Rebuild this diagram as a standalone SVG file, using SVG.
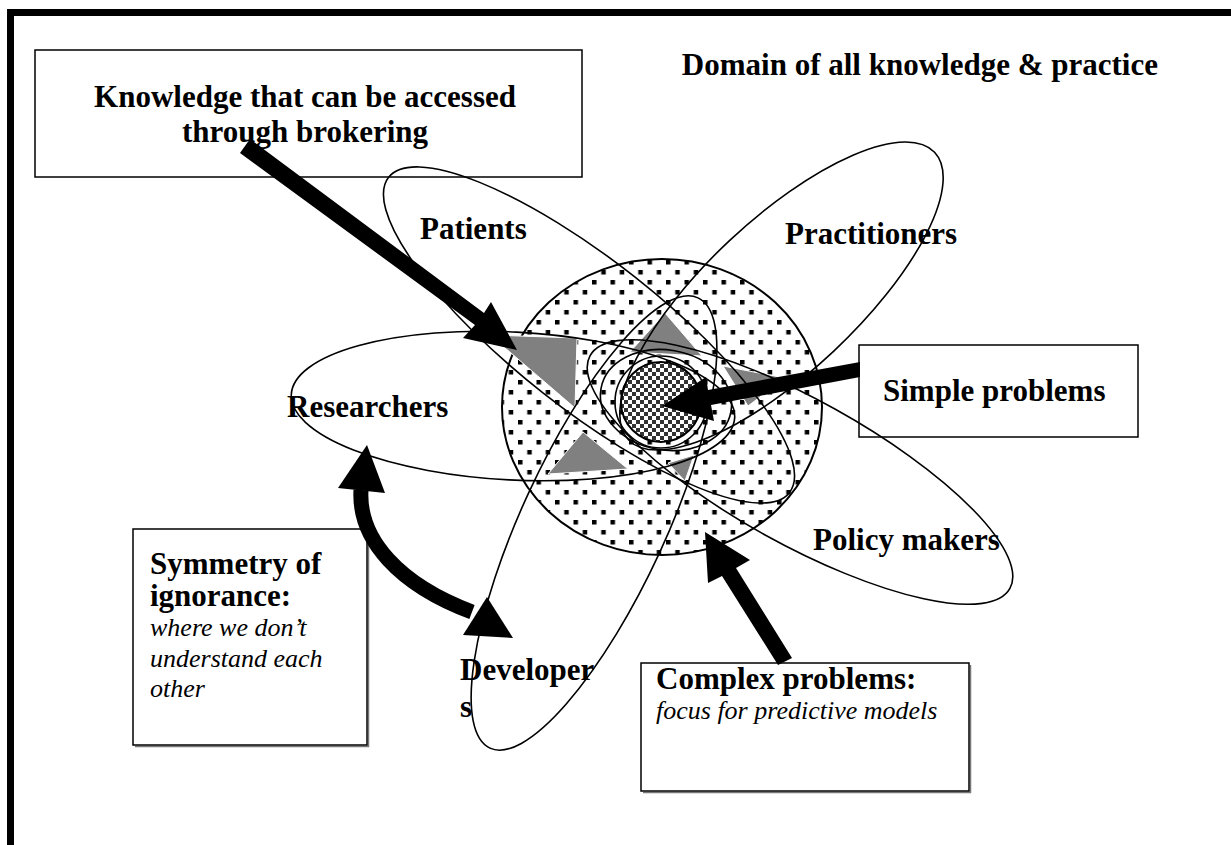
<svg xmlns="http://www.w3.org/2000/svg" width="1231" height="845" viewBox="0 0 1231 845">
<defs>
<pattern id="dots" patternUnits="userSpaceOnUse" width="18.5" height="20">
<rect x="0" y="0" width="4.5" height="4.5" fill="#000"/>
<rect x="9.25" y="10" width="4.5" height="4.5" fill="#000"/>
</pattern>
<pattern id="checks" patternUnits="userSpaceOnUse" width="8" height="8">
<rect width="8" height="8" fill="#fff"/>
<rect x="0" y="0" width="4" height="4" fill="#333"/>
<rect x="4" y="4" width="4" height="4" fill="#333"/>
</pattern>
<style>
.lbl{font-family:"Liberation Serif","Times New Roman",serif;font-weight:bold;font-size:31px;fill:#000}
.it{font-family:"Liberation Serif","DejaVu Serif","Times New Roman",serif;font-style:italic;font-size:26px;fill:#000}
.box{fill:none;stroke:#000;stroke-width:1.5}
.shadow{fill:none;stroke:#777;stroke-width:1.5}
.orb{fill:none;stroke:#000;stroke-width:1.6}
.tri{fill:#808080;stroke:#fff;stroke-width:1}
.arr{fill:#000}
</style>
</defs>
<rect width="1231" height="845" fill="#fff"/>
<g id="frame">
<rect x="7" y="9" width="1224" height="7" fill="#000"/>
<rect x="7" y="9" width="7" height="836" fill="#000"/>
</g>
<g id="domain">
<ellipse cx="662" cy="407" rx="160" ry="148" fill="#fff"/>
<ellipse cx="662" cy="407" rx="160" ry="148" fill="url(#dots)" stroke="#000" stroke-width="2"/>
</g>
<g id="overlaps">
<polygon class="tri" points="490,335 577,338 575,408"/>
<polygon class="tri" points="665,313 630,352 702,356"/>
<polygon class="tri" points="723,366 785,378 748,406"/>
<polygon class="tri" points="583,432 548,474 628,469"/>
<polygon class="tri" points="668,463 694,455 685,481"/>
</g>
<g id="nucleus">
<circle cx="661" cy="402" r="40" fill="url(#checks)" stroke="#000" stroke-width="2"/>
<circle cx="661" cy="402" r="46" class="orb"/>
<ellipse cx="666" cy="400" rx="66" ry="50" class="orb" transform="rotate(10 666 400)"/>
</g>
<g id="petals">
<ellipse id="patients" cx="589" cy="335" rx="255" ry="74" class="orb" transform="rotate(38.2 589 335)"/>
<ellipse id="policy-makers" cx="800" cy="472" rx="240" ry="72" class="orb" transform="rotate(29 800 472)"/>
<ellipse id="practitioners" cx="781.5" cy="296" rx="210" ry="76" class="orb" transform="rotate(-43.2 781.5 296)"/>
<ellipse id="developers" cx="594" cy="523" rx="248" ry="72" class="orb" transform="rotate(-65.2 594 523)"/>
<ellipse id="researchers" cx="513" cy="406" rx="222" ry="74" class="orb" transform="rotate(3 513 406)"/>
</g>
<g id="box-knowledge">
<rect x="35" y="50" width="547" height="127" class="box"/>
<text class="lbl" x="305" y="107" text-anchor="middle">Knowledge that can be accessed</text>
<text class="lbl" x="305" y="142" text-anchor="middle">through brokering</text>
</g>
<g id="box-simple">
<rect x="859" y="345" width="279" height="92" class="box"/>
<text class="lbl" x="883" y="401">Simple problems</text>
</g>
<g id="box-symmetry">
<polyline points="135,746.5 368.5,746.5 368.5,531" class="shadow"/>
<rect x="133" y="529" width="234" height="216" class="box"/>
<text class="lbl" x="150" y="574">Symmetry of</text>
<text class="lbl" x="150" y="606">ignorance:</text>
<text class="it" x="150" y="636">where we don’t</text>
<text class="it" x="150" y="667">understand each</text>
<text class="it" x="150" y="697">other</text>
</g>
<g id="box-complex">
<polyline points="643,792.5 970.5,792.5 970.5,665" class="shadow"/>
<rect x="641" y="663" width="328" height="128" class="box"/>
<text class="lbl" x="656" y="689">Complex problems:</text>
<text class="it" x="656" y="719">focus for predictive models</text>
</g>
<g id="connectors">
<path class="arr" d="M240,153 L250,139 L484,313 L491,302 L517,350 L463,338 L475,325 Z"/>
<path class="arr" d="M860,362 L860,377 L711,405 L714,421 L662,406 L706,377 L708,390 Z"/>
<path class="arr" d="M778,665 L792,658 L736,568 L750,560 L705,532 L708,583 L722,576 Z"/>
<path d="M361,490 C358,540 400,585 472,612" fill="none" stroke="#000" stroke-width="15"/>
<polygon class="arr" points="367,445 338,488 385,493"/>
<polygon class="arr" points="513,638 463,635 487,597"/>
</g>
<g id="labels">
<text class="lbl" x="1158" y="75" text-anchor="end">Domain of all knowledge &amp; practice</text>
<text class="lbl" x="420" y="239">Patients</text>
<text class="lbl" x="785" y="244">Practitioners</text>
<text class="lbl" x="287" y="417">Researchers</text>
<text class="lbl" x="813" y="550">Policy makers</text>
<text class="lbl" x="460" y="680">Developer</text>
<text class="lbl" x="460" y="717">s</text>
</g>
</svg>
